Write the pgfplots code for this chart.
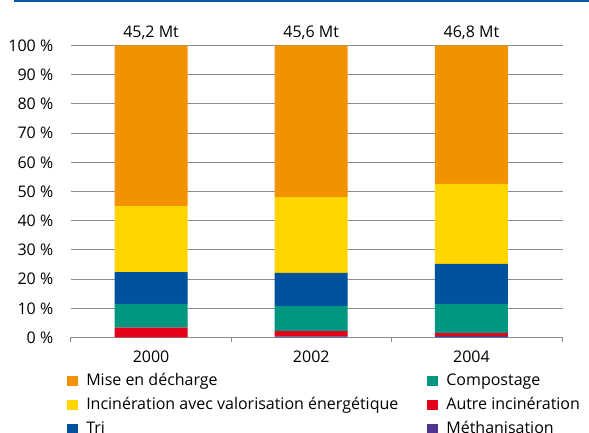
\documentclass[border=0pt]{standalone}
\usepackage{pgfplots}
\usepackage{pgfplotstable}
\pgfplotsset{compat=1.18}
\usepackage{fontspec}
\setmainfont{Open Sans}

\definecolor{cOrange}{HTML}{F39200}
\definecolor{cYellow}{HTML}{FFD500}
\definecolor{cBlue}{HTML}{00519E}
\definecolor{cGreen}{HTML}{00967F}
\definecolor{cRed}{HTML}{E2001A}
\definecolor{cPurple}{HTML}{4E3590}
\definecolor{gridgray}{RGB}{140,140,140}
\definecolor{topblue}{HTML}{0057A8}

% parts in % of the total, bottom to top
\pgfplotstableread{
x meth autre compost tri incin mise total label
0 0.0  3.4  8.1  10.9 22.6 55.0 100 {45,2 Mt}
1 0.4  1.8  8.6  11.3 26.0 51.9 100 {45,6 Mt}
2 0.5  1.0  10.0 13.7 27.4 47.4 100 {46,8 Mt}
}\data

\pgfplotsset{frame/.style={
  at={(71pt,95.5pt)}, anchor=south west,
  scale only axis, width=491.7pt, height=292pt,
  xmin=-0.5, xmax=2.57, ymin=0, ymax=100}}

\begin{document}
\begin{tikzpicture}
\useasboundingbox (0,0) rectangle (589pt,433pt);
\clip (0,0) rectangle (589pt,433pt);
\draw[topblue, line width=2pt] (14pt,432pt) -- (589pt,432pt);
\begin{axis}[frame,
  ybar stacked, bar width=73pt,
  axis x line*=bottom, axis y line*=left,
  x axis line style={draw=gridgray, line width=1pt, -},
  y axis line style={draw=none},
  xtick={0,1,2}, xticklabels={2000,2002,2004},
  major x tick style={draw=none},
  minor xtick={-0.5,0.5,1.5,2.57},
  minor x tick style={draw=gridgray, line width=1pt},
  minor tick length=5pt, tick align=outside,
  ytick={0,10,...,100}, major y tick style={draw=none},
  yticklabel={\pgfmathparse{int(\tick)}\pgfmathresult\ \%},
  yticklabel style={font=\fontsize{16}{19}\selectfont, xshift=-10pt},
  xticklabel style={font=\fontsize{16}{19}\selectfont, anchor=base, yshift=-20.5pt},
  ymajorgrids, grid style={gridgray, line width=1pt},
  legend columns=3, transpose legend, reverse legend,
  legend cell align=left,
  legend image code/.code={\fill[#1] (0pt,-5pt) rectangle (10.5pt,5.5pt); \path (18pt,0pt);},
  legend style={draw=none, fill=none, at={(-0.008,-0.122)}, anchor=north west,
    font=\fontsize{16}{19}\selectfont, inner sep=0pt, row sep=8pt,
    nodes={inner sep=1pt, text height=11pt, text depth=3pt},
    /tikz/every even column/.append style={column sep=28pt}},
]
\addplot[fill=cPurple, draw=none] table[x=x, y=meth] {\data};
\addlegendentry{Méthanisation}
\addplot[fill=cRed, draw=none] table[x=x, y=autre] {\data};
\addlegendentry{Autre incinération}
\addplot[fill=cGreen, draw=none] table[x=x, y=compost] {\data};
\addlegendentry{Compostage}
\addplot[fill=cBlue, draw=none] table[x=x, y=tri] {\data};
\addlegendentry{Tri}
\addplot[fill=cYellow, draw=none] table[x=x, y=incin] {\data};
\addlegendentry{Incinération avec valorisation énergétique}
\addplot[fill=cOrange, draw=none] table[x=x, y=mise] {\data};
\addlegendentry{Mise en décharge}
\end{axis}
% totals above the bars
\begin{axis}[frame, hide axis, clip=false]
\addplot[draw=none, mark=none, nodes near coords, point meta=explicit symbolic,
  nodes near coords style={anchor=base, yshift=7.5pt, font=\fontsize{16}{19}\selectfont, text=black}]
  table[x=x, y=total, meta=label] {\data};
\end{axis}
\end{tikzpicture}
\end{document}
